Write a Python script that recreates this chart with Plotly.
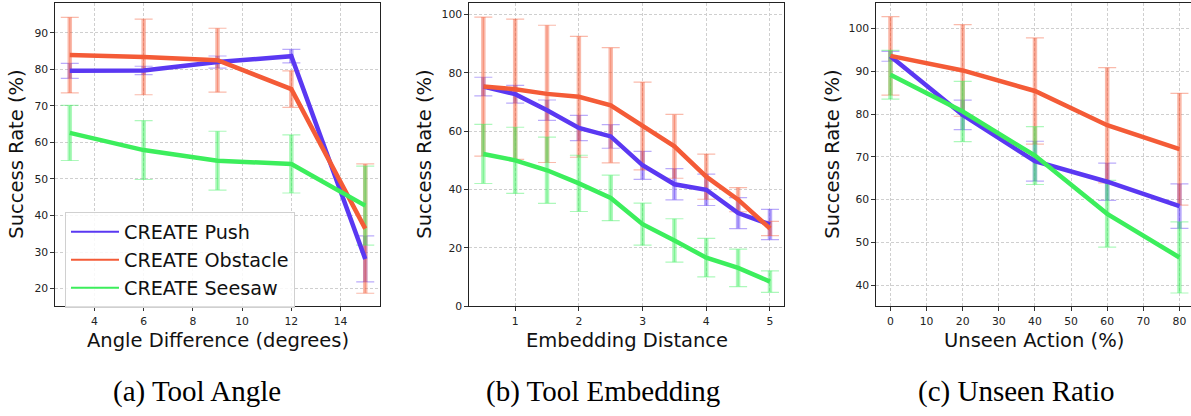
import plotly.graph_objects as go

# ---------------- data ----------------
series_names = ["CREATE Push", "CREATE Obstacle", "CREATE Seesaw"]

# (a) Tool Angle
angle_x = [3, 6, 9, 12, 15]
angle_push = [79.6, 79.7, 82.0, 83.6, 28.1]
angle_push_err = [2.05, 1.15, 1.65, 1.85, 6.3]
angle_obst = [83.9, 83.4, 82.5, 74.6, 36.4]
angle_obst_err = [10.35, 10.35, 8.75, 5.0, 17.7]
angle_see = [62.6, 57.9, 55.0, 54.1, 42.7]
angle_see_err = [7.55, 8.05, 8.05, 7.95, 10.8]

# (b) Tool Embedding
emb_x = [0.5, 1, 1.5, 2, 2.5, 3, 3.5, 4, 4.5, 5]
emb_push = [75.3, 72.7, 67.2, 61.1, 58.2, 48.3, 41.8, 39.9, 31.9, 28.0]
emb_push_err = [3.2, 3.05, 3.5, 4.35, 4.05, 4.8, 5.35, 5.4, 5.3, 5.2]
emb_obst = [75.3, 74.4, 72.8, 71.8, 68.9, 61.8, 54.8, 44.4, 36.5, 26.6]
emb_obst_err = [23.85, 24.05, 23.55, 20.75, 19.75, 15.05, 10.95, 7.75, 4.15, 2.45]
emb_see = [52.2, 50.0, 46.6, 42.1, 37.1, 28.1, 22.5, 16.6, 13.1, 8.4]
emb_see_err = [10.15, 11.35, 11.35, 9.65, 7.8, 7.2, 7.45, 6.6, 6.4, 3.7]

# (c) Unseen Ratio
unseen_x = [0, 20, 40, 60, 80]
unseen_push = [93.5, 79.8, 69.0, 64.2, 58.5]
unseen_push_err = [1.15, 3.45, 4.65, 4.35, 5.2]
unseen_obst = [93.6, 90.2, 85.4, 77.4, 71.8]
unseen_obst_err = [9.15, 10.7, 12.4, 13.45, 13.05]
unseen_see = [89.2, 80.6, 70.3, 56.7, 46.5]
unseen_see_err = [5.7, 7.05, 6.75, 7.8, 8.3]

x_titles = ["Angle Difference (degrees)", "Embedding Distance", "Unseen Action (%)"]
y_title = "Success Rate (%)"
captions = ["(a) Tool Angle", "(b) Tool Embedding", "(c) Unseen Ratio"]

# ---------------- styles ----------------
colors = ["#5a38f2", "#f45b37", "#3cee5c"]
err_colors = ["rgba(90,56,242,0.42)", "rgba(244,91,55,0.42)", "rgba(60,238,92,0.42)"]
W, H = 1191, 416
FONT = "DejaVu Sans"

panels = [
    (angle_x, [(angle_push, angle_push_err), (angle_obst, angle_obst_err), (angle_see, angle_see_err)]),
    (emb_x, [(emb_push, emb_push_err), (emb_obst, emb_obst_err), (emb_see, emb_see_err)]),
    (unseen_x, [(unseen_push, unseen_push_err), (unseen_obst, unseen_obst_err), (unseen_see, unseen_see_err)]),
]

# pixel layout of plot areas
px_left = [55, 469, 876]
px_right = [380, 784.3, 1191]
px_top, px_bottom = 3.3, 311.3
ydom = [1 - px_bottom / H, 1 - px_top / H]

x_ranges = [[2.4, 15.6], [0.275, 5.225], [-4, 83.2]]
y_ranges = [[15.2, 98.1], [0, 103.9], [35.15, 105.9]]
x_ticks = [[4, 6, 8, 10, 12, 14], [1, 2, 3, 4, 5], [0, 10, 20, 30, 40, 50, 60, 70, 80]]
y_ticks = [[20, 30, 40, 50, 60, 70, 80, 90], [0, 20, 40, 60, 80, 100], [40, 50, 60, 70, 80, 90, 100]]

fig = go.Figure()

for p, (xs, ser) in enumerate(panels):
    xa = "x" if p == 0 else f"x{p+1}"
    ya = "y" if p == 0 else f"y{p+1}"
    # error bars: thick translucent bar + thin cap
    for i, (ys, es) in enumerate(ser):
        fig.add_trace(go.Scatter(
            x=xs, y=ys, mode="markers", xaxis=xa, yaxis=ya, showlegend=False,
            marker=dict(size=1, color="rgba(0,0,0,0)"), hoverinfo="skip",
            error_y=dict(type="data", array=es, visible=True, color=err_colors[i],
                         thickness=4.5, width=0)))
        fig.add_trace(go.Scatter(
            x=xs, y=ys, mode="markers", xaxis=xa, yaxis=ya, showlegend=False,
            marker=dict(size=1, color="rgba(0,0,0,0)"), hoverinfo="skip",
            error_y=dict(type="data", array=es, visible=True, color=err_colors[i],
                         thickness=1.2, width=9)))
    for i, (ys, es) in enumerate(ser):
        fig.add_trace(go.Scatter(
            x=xs, y=ys, mode="lines", xaxis=xa, yaxis=ya, showlegend=False,
            line=dict(color=colors[i], width=4.5), name=series_names[i]))

# legend entries (thin lines like the reference legend)
for i, nm in enumerate(series_names):
    fig.add_trace(go.Scatter(x=[None], y=[None], mode="lines", name=nm,
                             line=dict(color=colors[i], width=2), xaxis="x", yaxis="y",
                             showlegend=True))

layout = dict(
    width=W, height=H,
    margin=dict(l=0, r=0, t=0, b=0),
    paper_bgcolor="white", plot_bgcolor="white",
    font=dict(family=FONT, color="#1a1a1a"),
    showlegend=True,
    legend=dict(x=65 / W, y=1 - 215.5 / H, xanchor="left", yanchor="top",
                bgcolor="rgba(255,255,255,0.85)", bordercolor="#d0d0d0", borderwidth=1,
                font=dict(family=FONT, size=19.2, color="#111111"),
                itemwidth=48, tracegroupgap=0),
)

for p in range(3):
    sx = "" if p == 0 else str(p + 1)
    axis_common = dict(showline=True, linecolor="#222222", linewidth=1.3,
                       ticks="outside", ticklen=3.5, tickwidth=1, tickcolor="#333333",
                       showgrid=True, gridcolor="#cfcfcf", gridwidth=1, griddash="3px,2px",
                       zeroline=False, tickfont=dict(family=FONT, size=10.8, color="#222222"))
    layout["xaxis" + sx] = dict(axis_common,
                                domain=[px_left[p] / W, px_right[p] / W],
                                range=x_ranges[p], tickvals=x_ticks[p],
                                anchor="y" + sx, mirror=True, ticklabelstandoff=1)
    layout["yaxis" + sx] = dict(axis_common, domain=ydom, range=y_ranges[p],
                                tickvals=y_ticks[p], anchor="x" + sx,
                                mirror=(p != 2))

fig.update_layout(**layout)

# axis titles and captions
ytitle_x = [17, 425, 833]
caption_x = [197, 603, 1016]
for p in range(3):
    cx = (px_left[p] + (px_right[p] if p < 2 else 1191)) / 2
    fig.add_annotation(x=cx / W, y=1 - 346 / H, xref="paper", yref="paper",
                       text=x_titles[p], showarrow=False,
                       font=dict(family=FONT, size=19.5, color="#111111"),
                       xanchor="center", yanchor="middle")
    fig.add_annotation(x=ytitle_x[p] / W, y=1 - 157.3 / H, xref="paper", yref="paper",
                       text=y_title, showarrow=False, textangle=-90,
                       font=dict(family=FONT, size=19.5, color="#111111"),
                       xanchor="center", yanchor="middle")
    fig.add_annotation(x=caption_x[p] / W, y=1 - 398 / H, xref="paper", yref="paper",
                       text=captions[p], showarrow=False,
                       font=dict(family="Liberation Serif", size=29, color="#000000"),
                       xanchor="center", yanchor="middle")

fig.write_html("out.html")
